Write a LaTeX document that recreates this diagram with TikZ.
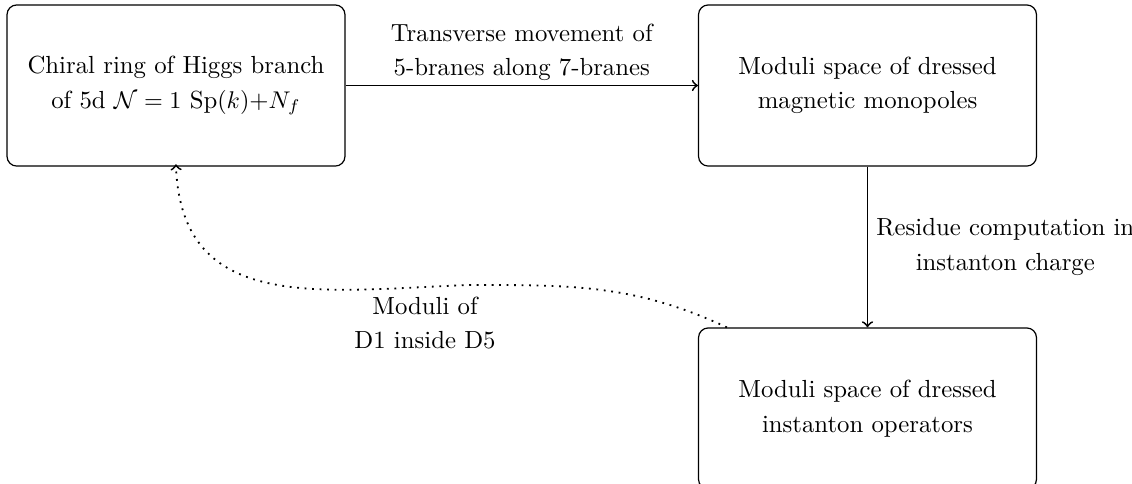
\documentclass[tikz,border=0pt]{standalone}
\usepackage{amsmath}
\begin{document}
\begin{tikzpicture}[x=0.414pt,y=-0.414pt,
  box/.style={draw, rounded corners=4pt, minimum width=139.9pt, minimum height=66.7pt, align=center, font=\fontsize{10.25}{14.3}\selectfont, line width=0.5pt},
  lbl/.style={align=center, font=\fontsize{10.25}{14.3}\selectfont},
  conn/.style={->, line width=0.75pt},
  dotconn/.style={->, line width=0.75pt, dash pattern=on 0.75pt off 2.35pt}]
\useasboundingbox (0,0) rectangle (1132,483);
\clip (0,0) rectangle (1132,483);
\node[box] (chiral) at (176,85.5) {Chiral ring of Higgs branch\\of 5d $\mathcal{N}=1$ Sp$(k)$+$N_f$};
\node[box] (mono) at (867.5,85.5) {Moduli space of dressed\\magnetic monopoles};
\node[box] (inst) at (867.5,408.5) {Moduli space of dressed\\instanton operators};
\draw[conn] (chiral.east) -- node[lbl, midway, anchor=south, inner sep=0pt, yshift=1.6pt] {Transverse movement of\\5-branes along 7-branes} (mono.west);
\draw[conn] (mono.south) -- node[lbl, midway, right] {Residue computation in\\instanton charge} (inst.north);
\coordinate (m) at (470,285);
\draw[dotconn, shorten >=-1pt] ([xshift=12pt]inst.north west) to[out=155,in=0] (m) to[out=182,in=-88,looseness=1.2] (chiral.south);
\node[lbl] (dlbl) at (425,323) {Moduli of\\D1 inside D5};
\end{tikzpicture}
\end{document}
